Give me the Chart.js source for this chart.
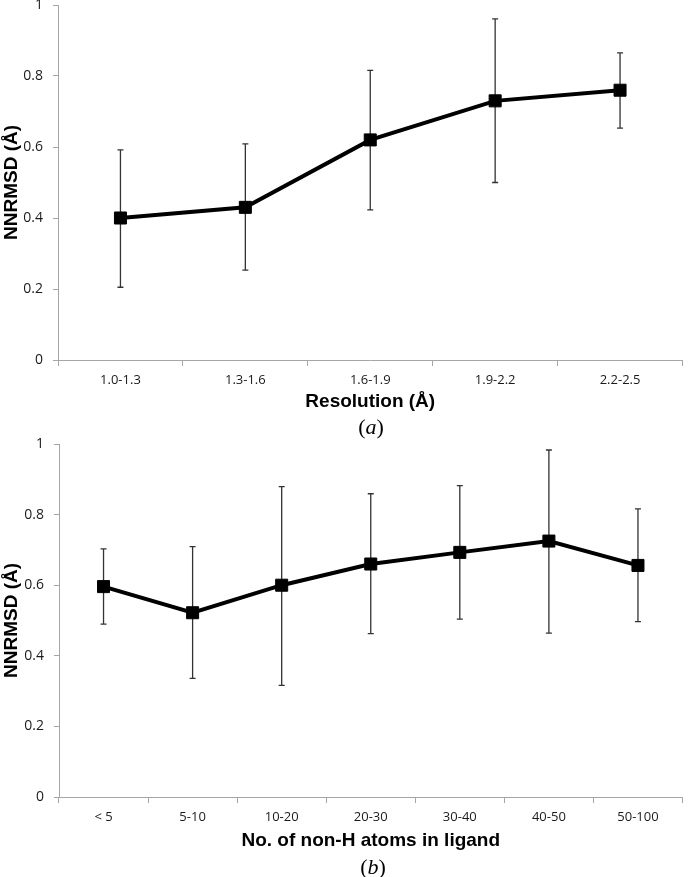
<!DOCTYPE html>
<html>
<head>
<meta charset="utf-8">
<script src="https://cdn.jsdelivr.net/npm/chart.js@4.4.1/dist/chart.umd.min.js"></script>
<style>
  html, body { margin: 0; padding: 0; background: #fff; overflow: hidden; }
  body { width: 692px; height: 877px; position: relative; }
  .box { position: absolute; left: 0; width: 692px; }
  .cap { position: absolute; left: 0; width: 742px; text-align: center;
         font-family: 'Liberation Serif', serif; font-size: 22px; line-height: 24px; color: #000; }
</style>
</head>
<body>
<div class="box" style="top:-10px;height:430px"><canvas id="chartA"></canvas></div>
<div class="cap" style="top:415px">(<i>a</i>)</div>
<div class="box" style="top:430px;height:440px"><canvas id="chartB"></canvas></div>
<div class="cap" style="top:855px;width:746px">(<i>b</i>)</div>
<script>
// panel (a): resolution bins
const resLabels = ['1.0-1.3', '1.3-1.6', '1.6-1.9', '1.9-2.2', '2.2-2.5'];
const resMean = [0.40, 0.43, 0.62, 0.73, 0.76];
const resLow  = [0.205, 0.253, 0.423, 0.50, 0.653];
const resHigh = [0.592, 0.609, 0.816, 0.961, 0.865];

// panel (b): ligand size bins
const atomLabels = ['< 5', '5-10', '10-20', '20-30', '30-40', '40-50', '50-100'];
const atomMean = [0.596, 0.522, 0.600, 0.660, 0.693, 0.725, 0.656];
const atomLow  = [0.490, 0.336, 0.316, 0.463, 0.504, 0.464, 0.497];
const atomHigh = [0.703, 0.709, 0.879, 0.859, 0.882, 0.983, 0.816];

const yTicks = [0, 0.2, 0.4, 0.6, 0.8, 1];

const axisGrey = '#a6a6a6';

// vertical error bars with small caps, drawn under the line
const errorBars = {
  id: 'errorBars',
  beforeDatasetsDraw(chart, args, opts) {
    const { ctx, scales: { x, y } } = chart;
    ctx.save();
    ctx.strokeStyle = '#333';
    ctx.lineWidth = 1.3;
    opts.low.forEach((lo, i) => {
      const px = x.getPixelForValue(i);
      const yl = y.getPixelForValue(lo);
      const yh = y.getPixelForValue(opts.high[i]);
      ctx.beginPath();
      ctx.moveTo(px, yl); ctx.lineTo(px, yh);
      ctx.moveTo(px - 3, yl); ctx.lineTo(px + 3, yl);
      ctx.moveTo(px - 3, yh); ctx.lineTo(px + 3, yh);
      ctx.stroke();
    });
    ctx.restore();
  }
};

function makeChart(id, labels, mean, low, high, xTitle, cfg) {
  return new Chart(document.getElementById(id), {
    type: 'line',
    data: {
      labels: labels,
      datasets: [{
        data: mean,
        borderColor: '#000',
        borderWidth: 4,
        tension: 0,
        pointStyle: 'rect',
        pointRadius: 8.5,
        pointBackgroundColor: '#000',
        pointBorderColor: '#000',
        pointBorderWidth: 1
      }]
    },
    plugins: [errorBars],
    options: {
      responsive: true,
      maintainAspectRatio: false,
      animation: false,
      layout: { padding: { top: cfg.top, right: cfg.right, left: 0, bottom: 0 } },
      plugins: {
        legend: { display: false },
        tooltip: { enabled: false },
        errorBars: { low: low, high: high }
      },
      scales: {
        x: {
          offset: true,
          grid: { offset: true, drawOnChartArea: false, tickLength: 6, color: axisGrey },
          border: { display: true, color: axisGrey, width: 1 },
          ticks: { color: '#1a1a1a', padding: 6, font: { family: 'Open Sans', size: 13 } },
          title: {
            display: true, text: xTitle, color: '#000',
            font: { family: 'Liberation Sans', size: 19, weight: 'bold' },
            padding: { top: 0, bottom: cfg.titlePad }
          },
          afterFit(scale) {
            scale.height = cfg.xHeight;
            scale.paddingLeft = 0; scale.paddingRight = 0;
          }
        },
        y: {
          min: 0, max: 1,
          afterBuildTicks(scale) { scale.ticks = yTicks.map(v => ({ value: v })); },
          grid: { drawOnChartArea: false, tickLength: 5, color: axisGrey },
          border: { display: true, color: axisGrey, width: 1 },
          ticks: {
            color: '#1a1a1a', padding: 10, font: { family: 'Open Sans', size: 14 },
            callback: v => String(v)
          },
          title: {
            display: true, text: 'NNRMSD (Å)', color: '#000',
            font: { family: 'Liberation Sans', size: 19, weight: 'bold' },
            padding: 0
          },
          afterFit(scale) {
            scale.width = cfg.yWidth;
            scale.paddingTop = 0; scale.paddingBottom = 0;
          }
        }
      }
    }
  });
}

makeChart('chartA', resLabels, resMean, resLow, resHigh, 'Resolution (Å)',
  { top: 15, right: 9, xHeight: 60, yWidth: 58, titlePad: 7 });
makeChart('chartB', atomLabels, atomMean, atomLow, atomHigh, 'No. of non-H atoms in ligand',
  { top: 14, right: 1, xHeight: 73, yWidth: 59, titlePad: 18 });
</script>
</body>
</html>
